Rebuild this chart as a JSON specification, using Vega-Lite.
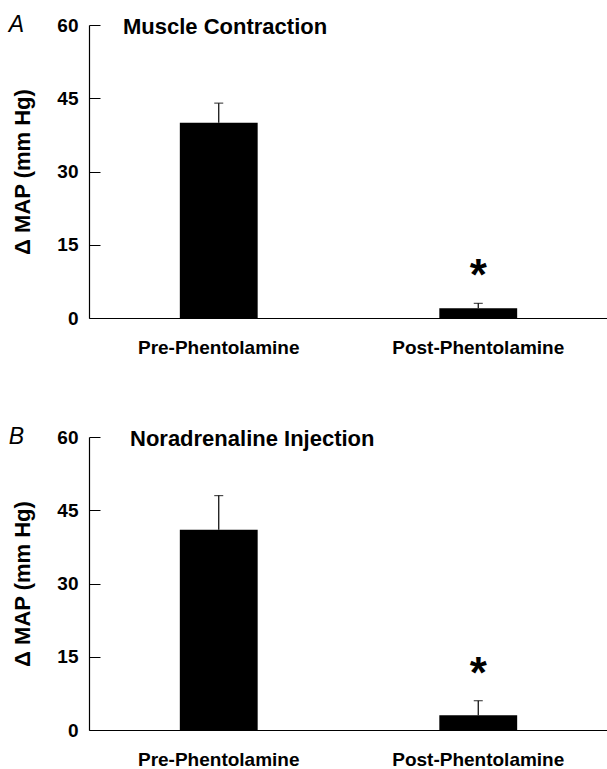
{
  "$schema": "https://vega.github.io/schema/vega-lite/v6.json",
  "padding": {"left": 8, "top": 14, "right": 0, "bottom": 0},
  "config": {
    "font": "Liberation Sans",
    "view": {"stroke": null},
    "concat": {"spacing": 69},
    "axis": {
      "labelFont": "Liberation Sans",
      "labelFontWeight": "bold",
      "labelFontSize": 19,
      "labelColor": "black",
      "domainColor": "black",
      "tickColor": "black",
      "titleColor": "black",
      "titleFont": "Liberation Sans",
      "grid": false
    }
  },
  "datasets": {
    "muscle": [
      {"condition": "Pre-Phentolamine", "mean": 40, "upper": 44, "sig": ""},
      {"condition": "Post-Phentolamine", "mean": 2, "upper": 3, "sig": "*"}
    ],
    "nor": [
      {"condition": "Pre-Phentolamine", "mean": 41, "upper": 48, "sig": ""},
      {"condition": "Post-Phentolamine", "mean": 3, "upper": 6, "sig": "*"}
    ]
  },
  "vconcat": [
    {
      "title": {"text": "A", "anchor": "start", "frame": "bounds", "font": "Liberation Sans", "fontStyle": "italic", "fontWeight": "normal", "fontSize": 23, "baseline": "alphabetic", "offset": -39, "dx": -3, "color": "black"},
      "vconcat": [
        {
          "title": {"text": "Muscle Contraction", "anchor": "start", "frame": "group", "font": "Liberation Sans", "fontSize": 22, "fontWeight": "bold", "baseline": "alphabetic", "offset": -40, "dx": 34, "color": "black"},
          "width": 519,
          "height": 293,
          "data": {"name": "muscle"},
          "encoding": {
            "x": {"field": "condition", "type": "nominal", "sort": ["Pre-Phentolamine", "Post-Phentolamine"], "scale": {"paddingInner": 0.7, "paddingOuter": 0.35}, "axis": {"title": null, "labelAngle": 0, "ticks": false, "labelPadding": 20, "domainWidth": 1.2}}
          },
          "layer": [
            {"mark": {"type": "bar", "color": "black"}, "encoding": {"y": {"field": "mean", "type": "quantitative", "scale": {"domain": [0, 60], "nice": false}, "axis": {"values": [0, 15, 30, 45, 60], "title": "Δ MAP (mm Hg)", "titleFontSize": 22, "titleFontWeight": "bold", "tickSize": -11, "labelPadding": 22, "titlePadding": 22, "domainWidth": 1.2}}}},
            {"mark": {"type": "rule", "color": "black", "strokeWidth": 1.2}, "encoding": {"y": {"field": "mean", "type": "quantitative", "title": "Δ MAP (mm Hg)"}, "y2": {"field": "upper"}}},
            {"mark": {"type": "tick", "color": "black", "size": 9, "thickness": 1.2}, "encoding": {"y": {"field": "upper", "type": "quantitative", "title": "Δ MAP (mm Hg)"}}},
            {"mark": {"type": "text", "fontSize": 44, "fontWeight": "bold", "baseline": "alphabetic", "dy": -13, "color": "black"}, "encoding": {"y": {"field": "upper", "type": "quantitative", "title": "Δ MAP (mm Hg)"}, "text": {"field": "sig"}}}
          ]
        }
      ]
    },
    {
      "title": {"text": "B", "anchor": "start", "frame": "bounds", "font": "Liberation Sans", "fontStyle": "italic", "fontWeight": "normal", "fontSize": 23, "baseline": "alphabetic", "offset": -39, "dx": -3, "color": "black"},
      "vconcat": [
        {
          "title": {"text": "Noradrenaline Injection", "anchor": "start", "frame": "group", "font": "Liberation Sans", "fontSize": 22, "fontWeight": "bold", "baseline": "alphabetic", "offset": -40, "dx": 41, "color": "black"},
          "width": 519,
          "height": 293,
          "data": {"name": "nor"},
          "encoding": {
            "x": {"field": "condition", "type": "nominal", "sort": ["Pre-Phentolamine", "Post-Phentolamine"], "scale": {"paddingInner": 0.7, "paddingOuter": 0.35}, "axis": {"title": null, "labelAngle": 0, "ticks": false, "labelPadding": 20, "domainWidth": 1.2}}
          },
          "layer": [
            {"mark": {"type": "bar", "color": "black"}, "encoding": {"y": {"field": "mean", "type": "quantitative", "scale": {"domain": [0, 60], "nice": false}, "axis": {"values": [0, 15, 30, 45, 60], "title": "Δ MAP (mm Hg)", "titleFontSize": 22, "titleFontWeight": "bold", "tickSize": -11, "labelPadding": 22, "titlePadding": 22, "domainWidth": 1.2}}}},
            {"mark": {"type": "rule", "color": "black", "strokeWidth": 1.2}, "encoding": {"y": {"field": "mean", "type": "quantitative", "title": "Δ MAP (mm Hg)"}, "y2": {"field": "upper"}}},
            {"mark": {"type": "tick", "color": "black", "size": 9, "thickness": 1.2}, "encoding": {"y": {"field": "upper", "type": "quantitative", "title": "Δ MAP (mm Hg)"}}},
            {"mark": {"type": "text", "fontSize": 44, "fontWeight": "bold", "baseline": "alphabetic", "dy": -13, "color": "black"}, "encoding": {"y": {"field": "upper", "type": "quantitative", "title": "Δ MAP (mm Hg)"}, "text": {"field": "sig"}}}
          ]
        }
      ]
    }
  ]
}
